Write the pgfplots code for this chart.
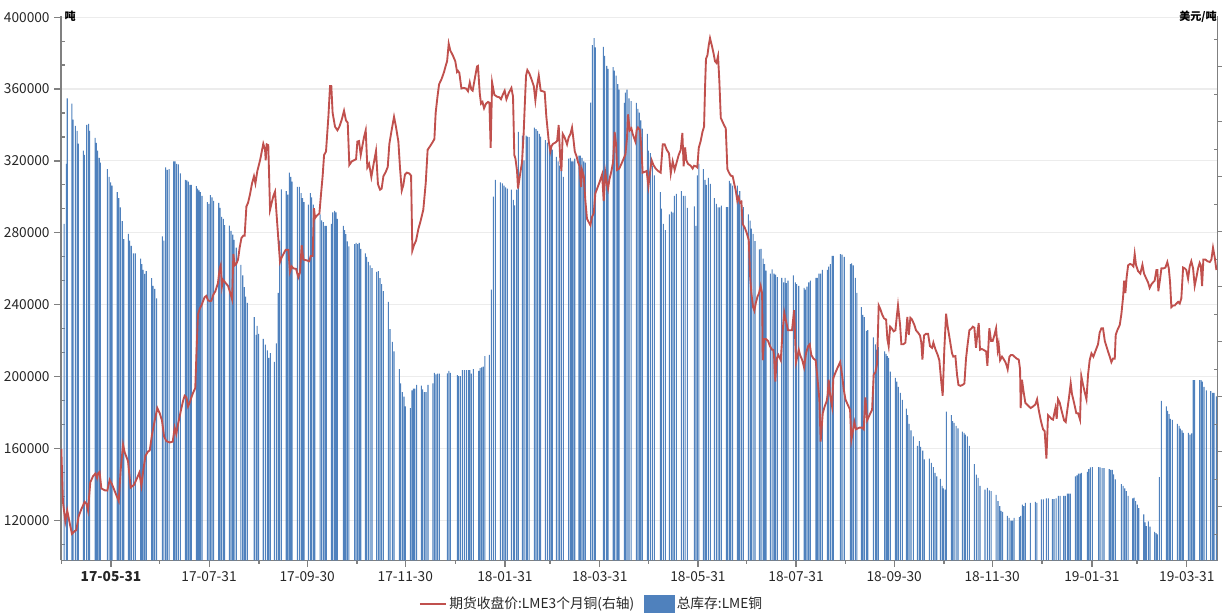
\documentclass[border=0pt]{standalone}
\usepackage{pgfplots}
\usepackage{pgfplotstable}
\pgfplotsset{compat=1.18}
\usepackage{fontspec}
\setmainfont{Noto Sans CJK SC}
\definecolor{barblue}{RGB}{79,129,189}
\definecolor{linered}{RGB}{192,80,77}
\definecolor{axgray}{RGB}{128,128,128}
\definecolor{gridgray}{RGB}{236,236,236}

% LME copper total stocks (tonnes); d = days since 2017-05-31
\pgfplotstableread{
d v
-29.2 284900
-27.8 318400
-27.2 354800
-24.3 351900
-23.6 343000
-22.2 339500
-21.1 336700
-20.3 329600
-17.2 325700
-16.6 323300
-15.1 340000
-13.9 340600
-13.3 336700
-9.9 332800
-9.1 330000
-8.3 325700
-7.3 321700
-6.6 319000
-2.3 315400
-1.2 311100
-0.2 308100
0.6 306200
3.9 302600
4.8 299300
5.8 294100
7.0 286500
7.9 276400
10.8 279400
11.6 275600
12.6 272700
13.9 268500
15.1 268500
18.4 265600
19.1 262600
19.9 259300
20.9 257100
21.9 258700
25.3 254700
26.1 250400
27.2 248800
28.4 243500
31.9 278000
32.9 275600
34.0 316400
35.0 315000
36.1 315400
39.0 319800
39.8 319800
40.8 318400
41.9 318000
43.1 313100
46.2 309500
47.1 309100
48.1 308500
49.1 306600
50.0 306600
53.1 306000
53.9 304600
54.7 303600
55.5 302600
56.6 300600
59.9 297100
60.9 296100
61.8 301000
62.8 299700
63.8 297700
67.0 296700
67.8 293800
68.8 288800
69.9 287800
70.7 284300
73.6 284000
74.6 281000
75.7 279000
76.5 276000
77.9 271700
80.8 262200
81.9 256300
82.9 249800
83.7 244500
84.8 241000
89.1 233100
90.2 223200
90.9 228200
91.8 223800
94.7 220900
96.0 217700
97.2 214600
98.1 210400
99.1 213000
101.6 208100
102.8 218500
104.0 246500
104.9 275600
105.9 304200
109.0 303200
109.9 301200
110.9 313500
111.8 311100
112.6 308500
115.9 305600
117.1 305600
118.2 302000
119.1 299300
120.0 297100
122.7 295700
124.0 302000
124.8 299700
125.8 295700
126.7 289800
130.0 290200
131.0 286900
132.1 285900
133.1 283900
133.9 283900
137.0 284900
137.9 291400
139.1 292200
139.9 291400
140.8 287800
144.5 283900
145.3 281500
146.1 279200
147.0 275200
147.9 272500
151.5 273700
152.4 274400
153.4 273700
154.4 274400
155.3 271100
158.2 268500
159.0 266600
160.0 263800
161.1 261800
162.3 260300
165.2 258300
166.3 258700
167.3 254700
168.3 251400
169.4 247500
172.5 241500
173.5 226400
175.0 219300
176.0 214000
179.3 204100
180.1 196200
181.2 191300
182.2 188800
183.0 183400
186.2 182400
187.2 192300
188.1 193300
189.0 193300
190.1 195300
193.0 194900
193.8 192900
194.9 191300
195.9 191300
197.1 195300
200.2 196200
201.1 202100
202.1 201200
203.1 201600
204.2 201600
209.2 201800
210.1 203100
211.0 202100
215.4 200800
216.2 200200
217.3 200200
218.5 203500
219.7 203500
221.0 203500
222.2 203500
223.1 203500
224.1 201600
225.3 204100
228.7 203100
229.5 204700
230.5 205100
231.5 205500
232.5 211400
235.3 212000
236.5 248400
237.8 300100
239.0 309500
242.1 308100
243.4 307500
244.4 306200
245.4 305200
246.5 304600
249.0 304000
250.2 298300
251.0 295300
252.3 304000
253.3 336100
255.8 334100
256.8 320300
258.1 334100
258.9 333500
260.0 333200
263.3 338500
264.3 337700
265.3 336700
266.4 335100
267.2 333500
270.1 331600
271.4 330200
272.6 328800
273.6 327200
274.5 326300
277.0 322300
278.0 319800
279.0 317400
280.1 314400
281.3 311100
284.6 321300
285.7 321700
286.5 319800
287.3 319800
288.4 321300
291.0 322900
291.9 322900
292.9 321700
294.0 319800
295.0 319000
298.3 352500
299.3 384400
300.4 388300
301.2 383200
306.2 383400
307.0 378500
308.3 372900
309.1 371200
312.2 372200
313.0 370200
314.1 367400
315.1 362700
315.9 359700
319.2 352300
319.9 358000
320.9 359600
322.1 354800
323.4 353200
326.7 352300
327.6 348900
328.6 346900
329.4 342600
330.4 337900
333.5 335100
334.2 325700
335.4 324300
336.7 317400
337.9 311900
341.6 302600
342.3 293400
343.5 284900
344.7 281500
347.2 290200
348.5 291800
349.4 291200
350.3 300600
351.6 301600
354.7 303200
355.9 300600
357.0 300600
358.4 293800
362.8 294700
363.7 283900
364.6 311900
365.6 318400
368.4 315400
369.4 309500
370.2 306600
371.5 310500
372.7 307200
375.2 299300
376.5 296100
377.5 294100
378.5 294100
379.6 295100
382.7 294300
383.5 294300
384.5 308900
385.4 307500
386.6 306200
389.5 306200
390.3 300100
391.0 303200
392.2 297700
393.2 294300
396.4 290200
397.4 286700
398.2 282300
399.3 279400
400.5 275400
403.2 270700
404.2 271100
405.5 265600
406.4 262600
407.3 258900
410.0 257300
411.1 259700
412.3 257300
413.2 256700
414.4 255300
417.1 254900
418.3 252400
419.2 254900
420.0 252000
421.0 253400
424.3 256300
425.6 252400
426.4 251400
427.7 250400
431.0 249400
431.8 248400
432.8 250000
433.9 252400
434.9 253400
438.4 254900
439.3 254900
440.3 257300
441.3 257300
442.4 259300
445.5 259300
446.3 261200
447.3 262600
448.4 267200
449.2 267200
453.6 268100
454.6 267800
456.0 266600
459.8 262600
460.6 263000
461.6 261800
462.9 254900
463.8 246500
466.6 238600
467.5 234300
468.5 233100
469.7 225400
470.6 225800
474.1 221800
475.3 217900
476.2 215000
477.2 216300
481.1 214000
482.0 212600
482.8 211400
483.6 210400
484.7 202700
487.8 199200
488.6 197200
489.6 194300
490.9 190900
492.1 187000
494.6 182100
495.4 178500
496.3 173600
497.5 170000
499.0 166700
501.5 161400
502.7 164100
503.5 160800
504.8 158800
505.8 153900
508.9 154300
510.2 151900
511.4 149600
512.4 146400
513.5 144400
515.8 143000
516.8 139100
517.6 137700
518.7 137100
519.5 180500
522.6 178500
523.4 175200
524.3 174200
525.5 172600
526.7 171200
529.4 169300
530.5 168700
531.3 167700
532.5 166700
533.8 161400
536.9 151300
538.1 145400
539.2 143600
540.4 139100
543.5 137100
545.0 138100
546.2 136700
547.3 136200
550.4 134200
551.6 130600
552.7 127900
553.5 125300
554.5 124700
557.4 122400
558.5 121400
559.7 119800
560.6 119800
561.6 121400
564.9 121800
565.7 122400
566.7 128700
567.6 127900
568.6 129700
571.7 129700
574.8 130200
575.8 129700
578.6 131600
579.8 131600
581.7 132200
582.9 132200
585.4 131800
586.4 131800
587.7 132200
589.1 133600
590.2 133600
592.5 133600
593.5 133600
594.7 134800
595.6 134800
596.6 134800
599.7 144400
600.7 145000
601.6 146000
602.6 146000
603.4 146400
607.2 147000
608.0 148400
609.0 149400
610.3 149600
614.2 149600
615.1 149400
616.3 149000
617.5 149000
620.8 148400
621.7 148000
622.7 148000
623.5 145600
624.6 142700
628.3 140100
629.4 139100
630.4 137700
631.4 136200
632.5 133600
635.4 132200
636.2 132600
637.2 130600
638.3 128700
639.1 126700
642.2 123300
643.0 118800
643.9 116800
645.1 119400
646.1 116500
649.0 113500
649.9 112900
650.7 112100
651.9 144000
653.2 186400
656.3 183400
657.1 180900
658.0 179100
658.8 176500
660.0 175900
663.1 173600
664.2 172600
665.0 171000
666.0 170000
666.9 168700
670.0 168700
671.0 167700
672.0 168300
673.0 198000
673.9 198000
677.0 198000
677.9 198000
678.7 197200
679.7 194300
681.2 192300
683.9 191900
685.1 190900
685.9 190900
687.4 189000
}\stocks

% LME 3-month copper close (USD/t); d = days since 2017-05-31
\pgfplotstableread{
d p
-30.9 5811
-29.9 5618
-28.4 5547
-27.2 5586
-25.7 5541
-24.3 5502
-22.6 5512
-21.6 5515
-20.1 5566
-18.4 5592
-16.4 5618
-15.3 5611
-14.3 5586
-12.9 5689
-11.2 5711
-9.7 5721
-8.7 5705
-8.1 5721
-7.1 5727
-6.0 5667
-3.9 5660
-2.3 5659
-0.8 5698
0.6 5682
2.3 5657
4.8 5621
6.0 5734
7.5 5826
8.5 5798
10.6 5766
12.2 5670
14.3 5680
16.0 5702
17.6 5724
18.9 5676
20.1 5734
21.4 5785
23.0 5801
24.1 5805
25.5 5863
27.2 5914
28.8 5959
30.3 5940
31.7 5914
33.0 5856
34.4 5839
36.5 5834
38.4 5837
39.6 5888
40.6 5865
41.7 5901
43.3 5946
44.8 5985
45.8 6004
46.9 5998
47.9 5965
48.9 5978
50.0 5998
51.0 6014
52.4 6032
53.3 6184
54.1 6300
55.1 6319
56.2 6332
58.2 6362
59.3 6367
60.3 6351
61.4 6348
62.4 6349
63.6 6371
64.9 6384
66.5 6413
67.6 6467
68.2 6478
69.0 6403
69.6 6426
70.7 6418
72.8 6403
74.2 6377
75.3 6354
76.1 6519
76.9 6478
77.9 6483
79.0 6499
80.0 6542
81.1 6577
82.3 6586
83.1 6586
84.2 6692
85.2 6705
86.4 6735
87.7 6776
88.9 6802
89.8 6776
91.0 6821
92.7 6860
94.7 6920
95.8 6898
96.2 6860
96.8 6918
97.8 6915
98.9 6680
99.9 6705
101.0 6731
102.0 6746
103.0 6660
104.1 6570
105.1 6490
106.1 6506
107.2 6519
108.6 6534
110.3 6534
111.3 6454
112.4 6474
113.4 6467
115.1 6465
116.5 6435
117.5 6452
118.6 6551
119.6 6499
121.7 6496
123.3 6493
124.2 6512
125.4 6512
126.2 6686
126.9 6650
127.9 6658
129.6 6667
130.6 6737
131.6 6802
132.5 6879
133.7 6892
135.2 7020
136.2 7130
137.0 7130
137.8 7033
139.3 6982
140.8 6969
142.0 6982
143.5 7008
144.9 7040
146.1 7005
147.2 6997
148.2 6843
149.7 6856
151.1 6860
152.4 6864
153.2 6928
154.2 6930
155.3 6879
156.5 6918
157.3 6943
158.4 6969
159.4 6834
160.5 6847
161.9 6799
163.1 6840
164.8 6894
166.0 6773
167.3 6753
168.3 6757
169.4 6802
170.8 6817
172.1 6836
173.1 6920
174.5 6969
176.0 7018
177.2 6982
178.7 6928
179.7 6834
180.8 6750
181.8 6770
182.8 6808
183.9 6815
185.5 6812
186.6 6804
187.4 6532
188.4 6551
189.7 6568
191.1 6609
192.6 6641
194.2 6680
195.7 6776
196.9 6898
198.4 6911
199.8 6924
201.1 6937
201.9 7033
202.9 7085
204.0 7136
205.6 7156
207.1 7181
208.3 7207
209.0 7220
210.0 7284
211.0 7259
212.5 7242
214.1 7220
215.2 7181
215.8 7185
216.6 7178
217.9 7121
219.3 7123
220.8 7121
222.0 7111
223.1 7143
224.1 7117
224.9 7113
226.2 7156
227.6 7201
228.2 7203
229.3 7104
230.1 7066
231.0 7072
232.0 7049
233.2 7066
234.5 7072
235.3 7069
236.1 6905
237.0 7143
238.4 7098
240.1 7091
241.5 7089
242.5 7082
243.6 7098
244.8 7113
245.9 7082
247.3 7104
249.0 7123
250.0 7091
250.8 6879
251.5 6866
252.5 6821
253.1 6757
254.2 6802
255.6 6853
256.6 6956
257.3 7059
258.1 7168
258.9 7188
260.2 7175
261.4 7156
262.9 7130
263.9 7078
264.9 7130
266.0 7168
267.2 7113
268.5 7111
269.7 7108
270.7 7020
272.2 6930
273.2 6892
273.9 6911
274.9 6920
276.3 6924
277.4 6930
278.4 6988
279.4 6860
280.1 6821
280.9 6956
282.1 6943
283.6 6918
284.6 6943
285.7 6956
286.7 6979
287.7 6930
288.4 6892
289.6 6873
290.4 6853
291.3 6840
292.3 6763
292.9 6825
294.0 6802
295.0 6712
296.0 6647
297.1 6635
298.1 6624
299.1 6654
300.2 6667
301.2 6740
302.7 6763
303.9 6782
305.4 6808
306.4 6712
307.4 6815
308.3 6779
309.1 6757
309.9 6789
311.2 6821
312.2 6853
313.2 6963
314.1 6918
314.7 6825
316.1 6830
317.4 6847
318.8 6866
319.9 6882
320.9 6943
321.5 7027
322.6 6969
323.6 6976
324.4 6956
326.1 6928
326.9 6969
327.7 6979
329.0 6969
329.8 6905
330.6 6815
331.9 6818
333.1 6821
334.2 6766
335.2 6815
336.2 6860
337.3 6843
338.7 6830
340.2 6821
341.8 6815
343.1 6918
344.3 6918
345.6 6898
347.0 6885
348.1 6812
349.3 6856
350.5 6825
351.8 6853
353.0 6879
354.3 6898
355.3 6959
356.1 6838
357.0 6907
357.8 6860
358.8 6847
360.5 6840
361.7 6830
362.6 6840
363.8 6838
364.6 6834
365.5 6905
366.7 6930
367.8 6963
368.8 6982
369.4 7123
370.0 7229
370.9 7242
371.7 7278
372.5 7304
373.6 7278
374.6 7252
375.6 7220
376.5 7214
377.5 7239
378.3 7149
379.2 7014
380.2 7001
381.2 6988
382.3 6976
383.3 6828
384.3 6815
385.4 6804
386.6 6802
387.4 6779
388.5 6750
389.5 6712
390.3 6725
391.2 6705
392.0 6709
392.8 6628
394.1 6615
395.3 6596
396.6 6570
397.4 6442
398.2 6377
399.3 6326
400.1 6313
400.9 6339
402.0 6364
403.0 6377
404.0 6403
404.9 6377
405.3 6133
406.1 6210
407.3 6210
408.6 6203
409.8 6184
411.1 6171
411.9 6171
412.3 6152
413.1 6055
414.0 6139
415.0 6152
416.5 6133
417.7 6242
418.7 6306
419.8 6274
421.0 6242
422.3 6242
423.5 6242
424.8 6315
426.0 6126
426.8 6146
427.7 6171
428.5 6152
429.9 6133
431.0 6107
432.2 6158
433.5 6184
434.5 6191
435.5 6152
436.8 6139
438.2 6133
439.3 6068
440.5 5991
441.3 5837
442.6 5940
443.8 5965
445.1 5985
445.7 6010
446.3 6062
447.1 6010
448.4 5965
449.2 6068
450.5 6088
451.9 6107
453.4 6126
454.6 6081
455.6 6030
456.7 5991
458.1 5972
459.6 5953
460.4 5843
461.2 5869
462.3 5908
463.3 5882
465.4 5888
467.0 5888
468.1 5882
469.1 5998
470.2 5914
471.2 5927
472.2 5940
473.3 5953
474.3 6081
475.3 6088
476.4 6120
477.4 6332
478.4 6319
479.5 6300
480.7 6285
482.0 6281
482.8 6210
483.6 6184
484.5 6255
485.5 6249
486.7 6238
487.8 6242
488.8 6300
489.4 6332
490.7 6261
491.5 6191
492.7 6191
494.0 6197
495.2 6290
496.1 6225
497.1 6287
498.1 6281
499.6 6261
500.6 6242
501.9 6233
503.1 6223
503.9 6197
504.6 6135
505.6 6223
506.8 6229
508.1 6229
509.3 6184
510.6 6178
511.4 6197
512.6 6174
514.1 6152
515.1 6133
516.4 6049
517.2 6004
518.2 6171
519.3 6302
520.3 6255
521.4 6216
523.0 6158
523.8 6146
525.1 6148
526.1 6081
527.0 6043
528.2 6040
529.6 6043
530.7 6049
531.7 6139
532.7 6191
533.8 6242
535.2 6249
535.9 6255
536.9 6251
537.9 6178
539.0 6242
539.6 6268
540.4 6171
541.5 6174
542.5 6171
544.2 6165
545.0 6113
546.2 6249
547.3 6203
548.3 6203
549.3 6223
550.4 6249
551.4 6171
552.0 6191
552.9 6133
554.1 6146
554.9 6139
556.2 6126
557.0 6113
557.6 6100
558.7 6146
559.7 6152
560.7 6152
561.8 6146
563.2 6139
564.5 6135
565.3 6100
565.7 5959
566.5 6062
567.4 6023
568.6 5978
570.3 5968
571.9 5959
573.4 5965
574.8 5972
575.9 5991
576.9 5953
578.2 5914
579.6 5882
580.6 5875
581.7 5775
582.7 5933
583.8 5927
584.8 5920
585.8 5917
587.3 5959
588.1 5920
588.9 5991
590.0 5978
591.0 5953
592.7 5914
593.7 5908
594.7 5953
595.6 5991
596.8 6049
597.6 6010
598.9 5978
600.3 5940
601.4 5940
602.6 5917
603.4 6075
604.5 6043
605.5 6017
606.6 5991
607.6 6081
608.6 6133
609.7 6158
610.9 6146
612.1 6165
613.8 6191
614.8 6233
615.9 6249
616.9 6249
618.0 6203
619.0 6184
620.0 6165
621.1 6146
622.1 6126
623.1 6139
624.2 6139
624.8 6225
625.8 6242
627.3 6261
628.3 6300
629.4 6364
630.0 6422
630.8 6377
631.6 6435
632.5 6478
633.7 6483
634.9 6480
635.8 6474
636.6 6519
637.4 6480
638.7 6457
640.1 6448
641.4 6480
642.4 6448
643.7 6431
644.9 6416
645.9 6396
647.0 6409
648.0 6416
649.0 6422
650.1 6461
650.7 6461
651.3 6384
652.4 6429
653.2 6467
654.6 6467
655.7 6470
656.9 6490
657.8 6467
658.6 6416
659.4 6326
660.4 6332
661.5 6332
662.5 6339
663.6 6345
664.6 6339
665.6 6358
666.7 6470
667.7 6467
668.7 6461
669.8 6429
670.8 6474
671.8 6493
672.9 6467
673.9 6403
675.0 6435
676.0 6467
677.0 6487
677.7 6478
678.5 6403
679.3 6499
680.6 6499
681.8 6493
683.3 6490
684.3 6499
685.3 6542
686.4 6506
687.4 6461
}\price

\pgfplotsset{
  pricelegend/.style={legend image code/.code={\draw[linered, line width=1.4pt] (0pt,0pt) -- (19.5pt,0pt);}},
  stocklegend/.style={legend image code/.code={\fill[barblue] (0pt,-6.3pt) rectangle (22.5pt,6.3pt);}},
}

\begin{document}
\begin{tikzpicture}
\path[use as bounding box] (-45.75pt,-41.8pt) rectangle (870.75pt,420.2pt);
\pgfplotsset{
  common/.style={
    at={(0pt,0pt)}, anchor=south west,
    scale only axis, width=867.5pt, height=408pt,
    xmin=-31.1, xmax=688.2,
    tick align=outside,
    major tick length=5pt, minor tick length=2.5pt,
    axis line style={axgray, line width=1.1pt},
    tick style={axgray, line width=0.9pt},
    ticklabel style={font=\fontsize{10.3}{12}\selectfont, text=black!85},
    /pgf/number format/assume math mode=true,
    /pgf/number format/fixed,
    /pgf/number format/precision=0,
    /pgf/number format/1000 sep={},
    scaled y ticks=false,
  }
}
\begin{axis}[common,
  ymin=97750, ymax=400500,
  axis x line*=bottom, axis y line*=left,
  xtick={0,61,122,183,245,304,365,426,487,548,610,669},
  xticklabels={\textbf{17-05-31},17-07-31,17-09-30,17-11-30,18-01-31,18-03-31,18-05-31,18-07-31,18-09-30,18-11-30,19-01-31,19-03-31},
  minor xtick={-31,30,92,153,214,273,334,395,457,518,579,638},
  ytick={120000,160000,200000,240000,280000,320000,360000,400000},
  yticklabels={120000,160000,200000,240000,280000,320000,360000,400000},
  extra y ticks={106667,133333,146667,173333,186667,213333,226667,253333,266667,293333,306667,333333,346667,373333,386667},
  extra y tick labels={},
  extra y tick style={tick align=inside, major tick length=3pt, grid=none},
  ymajorgrids, major grid style={gridgray, line width=0.8pt},
]
\addplot[ybar, bar width=0.82pt, fill=barblue, draw=none] table[x=d, y=v]{\stocks};
\end{axis}
\begin{axis}[common,
  ymin=5405.7, ymax=7383.6,
  axis x line=none, axis y line*=right,
  ytick={5600,5800,6000,6200,6400,6600,6800,7000,7200},
  yticklabels={},
  extra y ticks={5500,5700,5900,6100,6300,6500,6700,6900,7100,7300},
  extra y tick labels={},
  extra y tick style={tick align=inside, major tick length=3pt},
  legend columns=2,
  legend style={at={(0.459,-0.0803)}, anchor=center, draw=none, fill=none,
    font=\fontsize{10.3}{12}\selectfont, text=black!85,
    /tikz/every even column/.append style={column sep=5pt},
    inner sep=0pt},
]
\addplot[linered, line width=1.4pt, pricelegend] table[x=d, y=p]{\price};
\addlegendentry{期货收盘价:LME3个月铜(右轴)}
\addlegendimage{stocklegend}
\addlegendentry{总库存:LME铜}
\end{axis}
\node[anchor=west, inner sep=0pt, font=\fontsize{8.3}{10}\selectfont\bfseries] at (2.5pt,408pt) {吨};
\node[anchor=east, inner sep=0pt, font=\fontsize{8.3}{10}\selectfont\bfseries] at (867pt,408pt) {美元/吨};
\end{tikzpicture}
\end{document}
